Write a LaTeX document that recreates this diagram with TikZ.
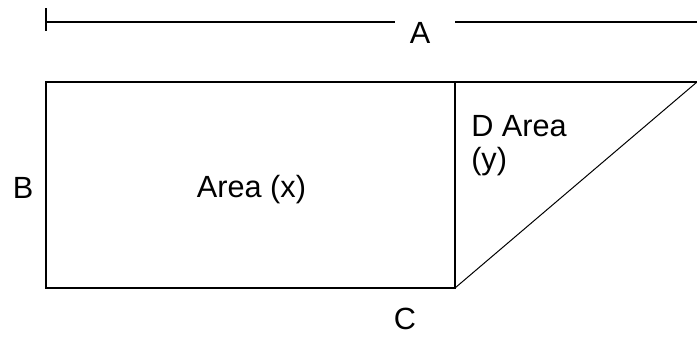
\documentclass[tikz,border=0pt]{standalone}
\usepackage{fontspec}
\setmainfont{Liberation Sans}
\usetikzlibrary{positioning}
\begin{document}
\begin{tikzpicture}[x=0.75pt,y=-0.75pt,every node/.style={inner sep=0pt,anchor=base,font=\fontsize{23}{25}\selectfont}]
  \useasboundingbox (0,0) rectangle (697,336);
  % dimension line
  \coordinate (tickT) at (46,8);
  \coordinate (tickB) at (46,31);
  \coordinate (lineL) at (46,22);
  \coordinate (gapL) at (395,22);
  \coordinate (gapR) at (455,22);
  \coordinate (lineR) at (697,22);
  \node (A) at (420,43) {A};

  % corners
  \coordinate (tl) at (46,82);
  \coordinate (bl) at (46,288);
  \coordinate (tm) at (455,82);
  \coordinate (bm) at (455,288);
  \coordinate (tr) at (697,82);

  \node (B) at (23,198) {B};
  \node (areax) at (251.5,197) {Area (x)};
  \node[anchor=north west,align=left] (areay) at (471,115) {D Area\\(y)};
  \node (C) at (405,329) {C};

  \draw[line width=1.5pt](tickT)--(tickB);
  \draw[line width=1.5pt](lineL)--(gapL);
  \draw[line width=1.5pt](gapR)--(lineR);
  \draw[line width=1.5pt](tr)--(tl)--(bl)--(bm)--(tm);
  \draw[line width=0.75pt](bm)--(tr);
\end{tikzpicture}
\end{document}
